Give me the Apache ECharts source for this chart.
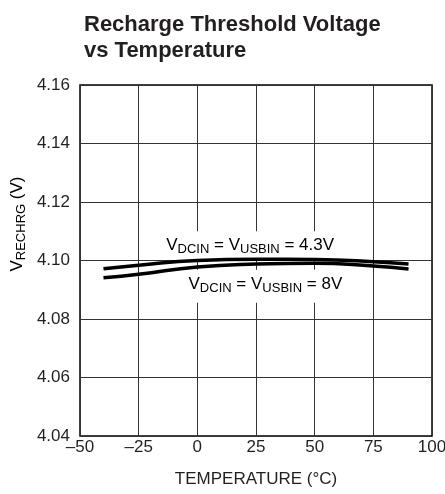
<!DOCTYPE html>
<html>
<head>
<meta charset="utf-8">
<script src="https://cdn.jsdelivr.net/npm/echarts@6/dist/echarts.min.js"></script>
<style>
  html, body { margin: 0; padding: 0; background: #fff; }
  #chart { width: 445px; height: 494px; }
</style>
</head>
<body>
<div id="chart"></div>
<script>
const FONT = '"Liberation Sans", Arial, sans-serif';

// temperature (°C)
const temps = [-40, -25, 0, 25, 50, 75, 90];
// V_RECHRG (V)
const v43 = [4.0972, 4.0984, 4.1000, 4.1004, 4.1003, 4.0996, 4.0988];
const v8 = [4.0941, 4.0953, 4.0978, 4.0988, 4.0991, 4.0981, 4.0971];

const xTicks = [-50, -25, 0, 25, 50, 75, 100];
const yTicks = [4.04, 4.06, 4.08, 4.10, 4.12, 4.14, 4.16];

const chart = echarts.init(document.getElementById('chart'));

const pair = (xs, ys) => xs.map((x, i) => [x, ys[i]]);

chart.setOption({
    animation: false,
    title: {
        text: 'Recharge Threshold Voltage\nvs Temperature',
        left: 79,
        top: 7,
        textStyle: {
            fontFamily: FONT,
            fontWeight: 'bold',
            fontSize: 22,
            lineHeight: 26,
            color: '#231f20'
        }
    },
    grid: {
        left: 80,
        top: 85,
        width: 352,
        height: 351,
        outerBoundsMode: 'none',
        show: true,
        borderColor: '#000',
        borderWidth: 1.5,
        z: 0
    },
    xAxis: {
        type: 'value',
        min: xTicks[0],
        max: xTicks[xTicks.length - 1],
        interval: 25,
        name: 'TEMPERATURE (°C)',
        nameLocation: 'middle',
        nameGap: 35,
        nameTextStyle: { fontFamily: FONT, fontSize: 17, color: '#231f20' },
        axisLine: { show: false },
        axisTick: { show: false },
        axisLabel: {
            fontFamily: FONT,
            fontSize: 17,
            color: '#231f20',
            margin: 3,
            formatter: v => (v < 0 ? '\u2013' + Math.abs(v) : '' + v)
        },
        splitLine: { lineStyle: { color: '#333', width: 1 } }
    },
    yAxis: {
        type: 'value',
        min: yTicks[0],
        max: yTicks[yTicks.length - 1],
        interval: 0.02,
        axisLine: { show: false },
        axisTick: { show: false },
        axisLabel: {
            fontFamily: FONT,
            fontSize: 17,
            color: '#231f20',
            margin: 10,
            formatter: v => v.toFixed(2)
        },
        splitLine: { lineStyle: { color: '#333', width: 1 } }
    },
    series: [
        {
            name: '4.3V',
            type: 'line',
            data: pair(temps, v43),
            smooth: true,
            showSymbol: false,
            z: 3,
            lineStyle: { color: '#000', width: 3.5 }
        },
        {
            name: '8V',
            type: 'line',
            data: pair(temps, v8),
            smooth: true,
            showSymbol: false,
            z: 3,
            lineStyle: { color: '#000', width: 3.5 }
        }
    ]
});

const rich = {
    b: { fontFamily: FONT, fontSize: 17, color: '#231f20' },
    s: { fontFamily: FONT, fontSize: 13, color: '#231f20', padding: [8, 0, 0, 0] }
};

const p1 = chart.convertToPixel({ gridIndex: 0 }, [22.5, 4.1052]);
const p2 = chart.convertToPixel({ gridIndex: 0 }, [29, 4.0912]);

chart.setOption({
    graphic: [
        {
            type: 'text',
            x: p1[0], y: p1[1], z: 1,
            style: {
                text: '{b|V}{s|DCIN}{b| = V}{s|USBIN}{b| = 4.3V}',
                rich,
                align: 'center',
                verticalAlign: 'middle',
                backgroundColor: '#fff',
                padding: [4, 2, 3, 2]
            }
        },
        {
            type: 'text',
            x: p2[0], y: p2[1], z: 1,
            style: {
                text: '{b|V}{s|DCIN}{b| = V}{s|USBIN}{b| = 8V}',
                rich,
                align: 'center',
                verticalAlign: 'middle',
                backgroundColor: '#fff',
                padding: [4, 2, 8, 2]
            }
        },
        {
            type: 'text',
            x: 17, y: 224, rotation: Math.PI / 2,
            style: {
                text: '{b|V}{s|RECHRG}{b| (V)}',
                rich,
                align: 'center',
                verticalAlign: 'middle'
            }
        }
    ]
});
</script>
</body>
</html>
